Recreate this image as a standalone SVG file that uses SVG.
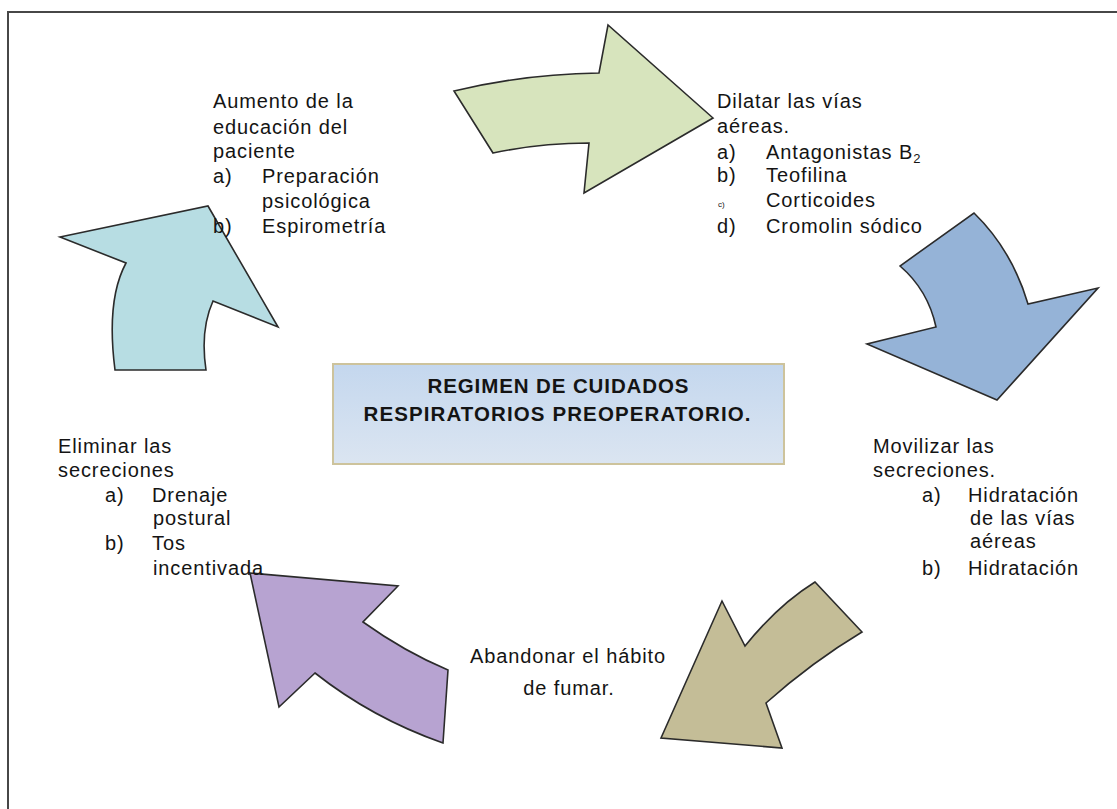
<svg xmlns="http://www.w3.org/2000/svg" width="1117" height="809" viewBox="0 0 1117 809">
<defs>
<linearGradient id="boxg" x1="0" y1="0" x2="0" y2="1">
<stop offset="0" stop-color="#c4d7ee"/>
<stop offset="1" stop-color="#dbe5f1"/>
</linearGradient>
<style>
.arr{stroke:#2b2b2b;stroke-width:1.6;stroke-linejoin:miter}
.t{font-family:"Liberation Sans",Arial,sans-serif;font-size:20px;fill:#141414;letter-spacing:0.9px}
.b{font-family:"Liberation Sans",Arial,sans-serif;font-size:20.5px;font-weight:bold;fill:#141414;text-anchor:middle}
</style>
</defs>
<rect width="1117" height="809" fill="#ffffff"/>
<rect x="8" y="12" width="1120" height="810" fill="none" stroke="#474747" stroke-width="2"/>

<g id="connectors">
<path id="arrow-green" class="arr" fill="#d7e4bd" d="M454,91 Q525,74 599,73 L608,25 L713,118 L584,193 L589,143 Q540,143 493,153 Z"/>
<path id="arrow-blue" class="arr" fill="#95b3d7" d="M974,213 Q1012,250 1028,304 L1098,288 L997,400 L867,344 L936,327 Q928,290 900,266 Z"/>
<path id="arrow-tan" class="arr" fill="#c4bd97" d="M722,601 L745,646 Q778,605 815,582 L862,632 Q812,662 766,703 L782,748 L661,738 Z"/>
<path id="arrow-purple" class="arr" fill="#b7a3d1" d="M250,573 L398,586 L363,622 Q405,652 448,670 L443,743 Q372,718 315,673 L279,707 Z"/>
<path id="arrow-cyan" class="arr" fill="#b7dde3" d="M60,237 L208,206 L278,327 L213,301 Q200,330 206,370 L115,370 Q106,300 126,263 Z"/>
</g>

<g id="center">
<rect x="333" y="364" width="451" height="100" fill="url(#boxg)" stroke="#cdc39c" stroke-width="2"/>
<text class="b" x="558" y="393" textLength="261" lengthAdjust="spacing">REGIMEN DE CUIDADOS</text>
<text class="b" x="557" y="421" textLength="387" lengthAdjust="spacing">RESPIRATORIOS PREOPERATORIO.</text>
</g>

<g id="node-dilatar">
<text class="t" x="717" y="108">Dilatar las vías</text>
<text class="t" x="717" y="133">aéreas.</text>
<text class="t" x="717" y="159">a)</text>
<text class="t" x="766" y="159">Antagonistas B<tspan font-size="13" dy="4">2</tspan></text>
<text class="t" x="717" y="182">b)</text>
<text class="t" x="766" y="182">Teofilina</text>
<text class="t" x="718" y="207" style="font-size:8px;letter-spacing:0">c)</text>
<text class="t" x="766" y="207">Corticoides</text>
<text class="t" x="717" y="233">d)</text>
<text class="t" x="766" y="233">Cromolin sódico</text>
</g>

<g id="node-movilizar">
<text class="t" x="873" y="453">Movilizar las</text>
<text class="t" x="873" y="477">secreciones.</text>
<text class="t" x="922" y="502">a)</text>
<text class="t" x="968" y="502">Hidratación</text>
<text class="t" x="970" y="525">de las vías</text>
<text class="t" x="970" y="548">aéreas</text>
<text class="t" x="922" y="575">b)</text>
<text class="t" x="968" y="575">Hidratación</text>
</g>

<g id="node-abandonar">
<text class="t" x="568" y="663" text-anchor="middle">Abandonar el hábito</text>
<text class="t" x="569" y="695" text-anchor="middle">de fumar.</text>
</g>

<g id="node-eliminar">
<text class="t" x="58" y="453">Eliminar las</text>
<text class="t" x="58" y="477">secreciones</text>
<text class="t" x="105" y="502">a)</text>
<text class="t" x="152" y="502">Drenaje</text>
<text class="t" x="153" y="525">postural</text>
<text class="t" x="105" y="550">b)</text>
<text class="t" x="152" y="550">Tos</text>
<text class="t" x="153" y="575">incentivada</text>
</g>

<g id="node-aumento">
<text class="t" x="213" y="108">Aumento de la</text>
<text class="t" x="213" y="134">educación del</text>
<text class="t" x="213" y="158">paciente</text>
<text class="t" x="213" y="183">a)</text>
<text class="t" x="262" y="183">Preparación</text>
<text class="t" x="262" y="208">psicológica</text>
<text class="t" x="213" y="233">b)</text>
<text class="t" x="262" y="233">Espirometría</text>
</g>
</svg>
